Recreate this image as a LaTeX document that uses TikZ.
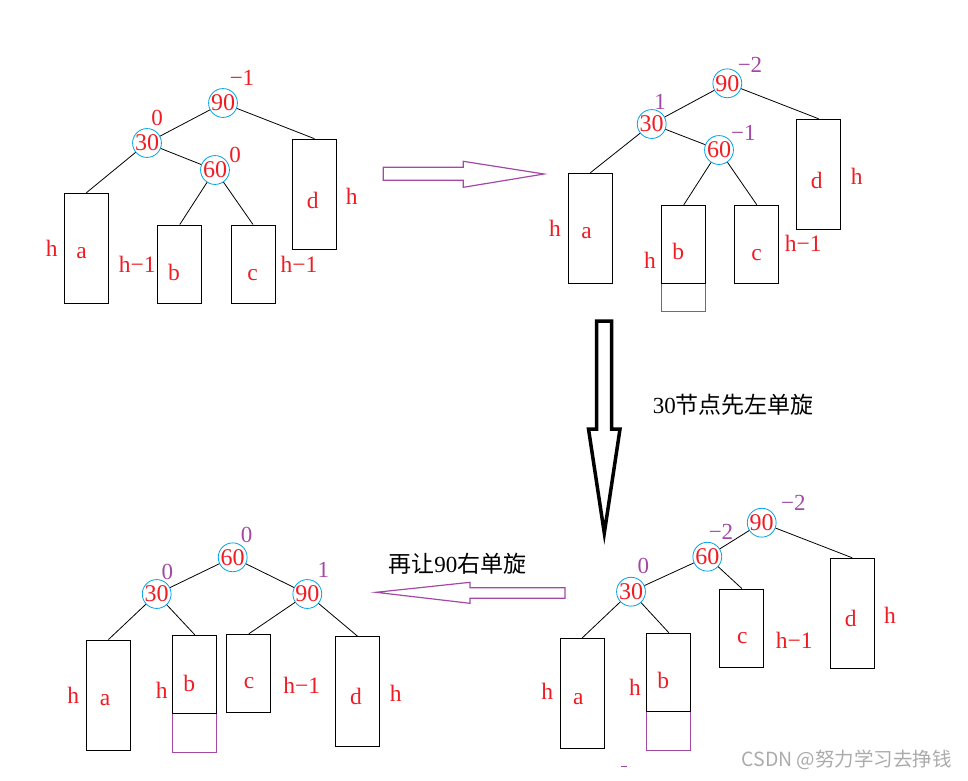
\documentclass[tikz,border=0pt]{standalone}
\usepackage{fontspec}
\setmainfont{Liberation Serif}
\newfontfamily\cjk{Noto Sans CJK SC}
\definecolor{redt}{HTML}{F01C24}
\definecolor{purp}{HTML}{A349A4}
\definecolor{bluec}{HTML}{00A2E8}
\definecolor{wmgray}{HTML}{ABABAB}
\tikzset{
  nd/.style={circle, draw=bluec, line width=0.8pt, minimum size=28pt, inner sep=0pt, text=redt, font=\fontsize{24}{24}\selectfont},
  bx/.style={draw=black, line width=1pt, minimum width=44pt, inner sep=0pt},
  bxh/.style={bx, minimum height=110pt},
  bxs/.style={bx, minimum height=78pt},
  ext/.style={draw=purp, line width=1pt, minimum width=44pt, inner sep=0pt},
  lbl/.style={text=redt, font=\fontsize{23.5}{23.5}\selectfont, inner sep=0pt},
  balr/.style={text=redt, font=\fontsize{23}{23}\selectfont, inner sep=0pt},
  balp/.style={text=purp, font=\fontsize{23}{23}\selectfont, inner sep=0pt},
  edge/.style={line width=0.8pt, black},
  harrow/.style={draw=purp, line width=1.2pt},
  varrow/.style={draw=black, line width=3.5pt, line join=miter},
  note/.style={text=black, inner sep=0pt, font=\fontsize{23}{23}\selectfont}
}
\begin{document}
\begin{tikzpicture}[x=1pt,y=-1pt]
\useasboundingbox (0,0) rectangle (968,780);

% ================= Top-left tree =================
\node[nd] (tl90) at (223,103) {90};
\node[nd] (tl30) at (147,143) {30};
\node[nd] (tl60) at (215,170) {60};
\node[balr] (tl90b) at (242,78) {−1};
\node[balr] (tl30b) at (157,118) {0};
\node[balr] (tl60b) at (235,155) {0};
\node[bxh] (tla) at (86.3,248.3) {};
\node[bxs] (tlb) at (179.8,264) {};
\node[bxs] (tlc) at (253,264) {};
\node[bxh] (tld) at (314.5,194.2) {};
\node[lbl] (tlat) at (81.7,253) {a};
\node[lbl] (tlbt) at (174,272) {b};
\node[lbl] (tlct) at (252.7,275) {c};
\node[lbl] (tldt) at (312.7,200) {d};
\node[lbl] (tlah) at (51.7,248) {h};
\node[lbl] (tlbh) at (137.3,264) {h−1};
\node[lbl] (tlch) at (299,264) {h−1};
\node[lbl] (tldh) at (351.7,196.7) {h};
\draw[edge] (tl90) -- (tl30);
\draw[edge] (tl90) -- (tld.north);
\draw[edge] (tl30) -- (tl60);
\draw[edge] (tl30) -- (tla.north);
\draw[edge] (tl60) -- (tlb.north);
\draw[edge] (tl60) -- (tlc.north);

% ================= Top arrow =================
\draw[harrow] (383.3,167.3) -- (463.3,167.3) -- (463.3,161.3) -- (544,174)
  -- (463.3,187.3) -- (463.3,180.3) -- (383.3,180.3) -- cycle;

% ================= Top-right tree =================
\node[nd] (tr90) at (727.3,83.3) {90};
\node[nd] (tr30) at (651.7,124) {30};
\node[nd] (tr60) at (719,150) {60};
\node[balp] (tr90b) at (750,65) {−2};
\node[balp] (tr30b) at (660,101.7) {1};
\node[balp] (tr60b) at (743.3,133.3) {−1};
\node[ext] (trbx) at (683.8,297.2) [minimum height=27.7pt] {};
\node[bxh] (tra) at (590.3,228.3) {};
\node[bxs] (trb) at (683.8,244.3) {};
\node[bxs] (trc) at (756.8,244.3) {};
\node[bxh] (trd) at (818.7,174.3) {};
\node[lbl] (trat) at (586.7,233) {a};
\node[lbl] (trbt) at (678.3,251.7) {b};
\node[lbl] (trct) at (756.7,255) {c};
\node[lbl] (trdt) at (816.7,180) {d};
\node[lbl] (trah) at (555,228) {h};
\node[lbl] (trbh) at (650,260) {h};
\node[lbl] (trch) at (803.3,243.3) {h−1};
\node[lbl] (trdh) at (856.7,176.7) {h};
\draw[edge] (tr90) -- (tr30);
\draw[edge] (tr90) -- (trd.north);
\draw[edge] (tr30) -- (tr60);
\draw[edge] (tr30) -- (tra.north);
\draw[edge] (tr60) -- (trb.north);
\draw[edge] (tr60) -- (trc.north);

% ================= Down arrow + note =================
\draw[varrow] (596.7,321) -- (611.6,321) -- (611.6,429) -- (620,429) -- (604.3,533)
  -- (588.5,429) -- (596.7,429) -- cycle;
\node[note] (n1) at (733.3,405) {30\cjk 节点先左单旋};

% ================= Bottom-right tree =================
\node[nd] (br90) at (761.7,522.7) {90};
\node[nd] (br60) at (707.3,556.7) {60};
\node[nd] (br30) at (631,591.7) {30};
\node[balp] (br90b) at (793.3,503) {−2};
\node[balp] (br60b) at (721,531.7) {−2};
\node[balp] (br30b) at (643.3,566) {0};
\node[ext] (brbx) at (668.8,730.5) [minimum height=39pt] {};
\node[bxh] (bra) at (582.3,693.3) {};
\node[bxs] (brb) at (668.8,672.2) {};
\node[bxs] (brc) at (741.8,628) {};
\node[bxh] (brd) at (852.3,613.3) {};
\node[lbl] (brat) at (578.3,699.3) {a};
\node[lbl] (brbt) at (663.3,680) {b};
\node[lbl] (brct) at (742.3,638.3) {c};
\node[lbl] (brdt) at (850.7,618.3) {d};
\node[lbl] (brah) at (547.3,691.7) {h};
\node[lbl] (brbh) at (635,687.3) {h};
\node[lbl] (brch) at (794.3,640.7) {h−1};
\node[lbl] (brdh) at (890,615) {h};
\draw[edge] (br90) -- (br60);
\draw[edge] (br90) -- (brd.north);
\draw[edge] (br60) -- (br30);
\draw[edge] (br60) -- (brc.north);
\draw[edge] (br30) -- (bra.north);
\draw[edge] (br30) -- (brb.north);

% ================= Bottom arrow + note =================
\draw[harrow] (565,587.7) -- (470,587.7) -- (470,582.3) -- (376,592.3)
  -- (470,603.3) -- (470,598.3) -- (565,598.3) -- cycle;
\node[note] (n2) at (457.3,563.3) {\cjk 再让{\rmfamily 90}右单旋};

% ================= Bottom-left tree =================
\node[nd] (bl60) at (232.7,557.3) {60};
\node[nd] (bl30) at (156.7,594) {30};
\node[nd] (bl90) at (307.3,594) {90};
\node[balp] (bl60b) at (246.7,535) {0};
\node[balp] (bl30b) at (167.3,571.7) {0};
\node[balp] (bl90b) at (323.3,570) {1};
\node[ext] (blbx) at (194.8,732.8) [minimum height=39pt] {};
\node[bxh] (bla) at (108.5,695) {};
\node[bxs] (blb) at (194.8,674.3) {};
\node[bxs] (blc) at (248.8,673.3) {};
\node[bxh] (bld) at (357.3,691.5) {};
\node[lbl] (blat) at (105,700) {a};
\node[lbl] (blbt) at (189.3,683.3) {b};
\node[lbl] (blct) at (249,683.3) {c};
\node[lbl] (bldt) at (356,696.7) {d};
\node[lbl] (blah) at (73.3,695) {h};
\node[lbl] (blbh) at (161.7,690) {h};
\node[lbl] (blch) at (301.7,685.7) {h−1};
\node[lbl] (bldh) at (395.7,693.3) {h};
\draw[edge] (bl60) -- (bl30);
\draw[edge] (bl60) -- (bl90);
\draw[edge] (bl30) -- (bla.north);
\draw[edge] (bl30) -- (blb.north);
\draw[edge] (bl90) -- (blc.north);
\draw[edge] (bl90) -- (bld.north);

% small mark and watermark
\coordinate (m1) at (621,766.3);
\coordinate (m2) at (626.7,766.3);
\draw[purp, line width=1pt] (m1) -- (m2);
\node[text=wmgray, inner sep=0pt, font=\cjk\fontsize{19.5}{19.5}\selectfont] (wm) at (846.7,760) {CSDN @努力学习去挣钱};
\end{tikzpicture}
\end{document}
